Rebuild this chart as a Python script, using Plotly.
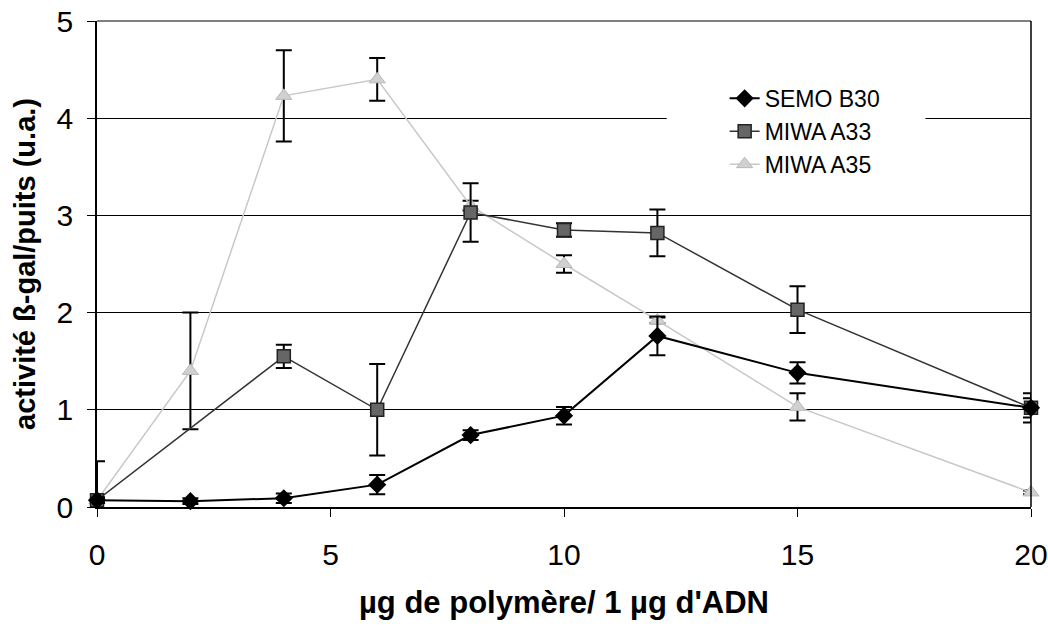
import plotly.graph_objects as go

# Data
x_semo = [0, 2, 4, 6, 8, 10, 12, 15, 20]
y_semo = [0.07, 0.06, 0.09, 0.23, 0.74, 0.94, 1.76, 1.38, 1.02]
e_semo = [0.03, 0.03, 0.05, 0.10, 0.05, 0.09, 0.20, 0.11, 0.10]

x_a33 = [0, 4, 6, 8, 10, 12, 15, 20]
y_a33 = [0.07, 1.55, 1.00, 3.03, 2.85, 2.82, 2.03, 1.02]
e_a33 = [0.40, 0.12, 0.47, 0.30, 0.07, 0.24, 0.24, 0.15]

x_a35 = [0, 2, 4, 6, 8, 10, 12, 15, 20]
y_a35 = [0.07, 1.40, 4.23, 4.40, 3.10, 2.50, 1.92, 1.03, 0.15]
e_a35 = [0.02, 0.60, 0.47, 0.22, 0.05, 0.09, 0.03, 0.14, 0.02]

x_ticks = [0, 5, 10, 15, 20]
y_ticks = [0, 1, 2, 3, 4, 5]

font_family = "Liberation Sans, Arial, sans-serif"

fig = go.Figure()

fig.add_trace(go.Scatter(
    x=x_a35, y=y_a35, name="MIWA A35", mode="lines+markers",
    line=dict(color="#c8c8c8", width=1.5),
    marker=dict(symbol="triangle-up", size=14, color="#d0d0d0", line=dict(color="#b8b8b8", width=1)),
    error_y=dict(type="data", array=e_a35, color="black", thickness=2, width=8),
    cliponaxis=False,
))
fig.add_trace(go.Scatter(
    x=x_a33, y=y_a33, name="MIWA A33", mode="lines+markers",
    line=dict(color="#333333", width=1.5),
    marker=dict(symbol="square", size=13, color="#666666", line=dict(color="#222222", width=1.5)),
    error_y=dict(type="data", array=e_a33, color="black", thickness=2, width=8),
    cliponaxis=False,
))
fig.add_trace(go.Scatter(
    x=x_semo, y=y_semo, name="SEMO B30", mode="lines+markers",
    line=dict(color="black", width=2),
    marker=dict(symbol="diamond", size=14, color="black"),
    error_y=dict(type="data", array=e_semo, color="black", thickness=2, width=8),
    cliponaxis=False,
))

fig.update_layout(
    width=1048, height=626,
    margin=dict(l=97, r=0, t=21, b=119),
    paper_bgcolor="white", plot_bgcolor="white",
    font=dict(family=font_family, color="black", size=30),
    showlegend=True,
    legend=dict(
        x=0.672, y=0.885, xanchor="left", yanchor="top",
        bgcolor="white", borderwidth=0,
        traceorder="reversed",
        font=dict(size=23, family=font_family),
        tracegroupgap=0,
    ),
    xaxis=dict(
        range=[0, 20], tickvals=x_ticks, ticks="outside", ticklen=8,
        tickcolor="black", showline=True, linecolor="black", linewidth=1.5,
        showgrid=False, zeroline=False, mirror=False,
        tickfont=dict(size=30), ticklabelstandoff=12, ticklabeloverflow="allow",
        title=dict(text="<b>µg de polymère/ 1 µg d'ADN</b>", font=dict(size=31), standoff=22),
    ),
    yaxis=dict(
        range=[0, 5], tickvals=y_ticks, ticks="outside", ticklen=8,
        tickcolor="black", showline=True, linecolor="black", linewidth=1.5,
        showgrid=True, gridcolor="black", gridwidth=1, zeroline=False,
        tickfont=dict(size=30), ticklabelstandoff=8, ticklabeloverflow="allow",
        title=dict(text="<b>activité ß-gal/puits (u.a.)</b>", font=dict(size=29), standoff=12),
    ),
)

# top gridline and right border of the plot area
fig.add_shape(type="line", xref="paper", yref="paper", x0=0, x1=1, y0=1, y1=1,
              line=dict(color="black", width=1), layer="below")
fig.add_shape(type="line", xref="paper", yref="paper", x0=1, x1=1, y0=0, y1=1,
              line=dict(color="black", width=1.5))
# white legend background box (hides the gridline behind the legend)
fig.add_shape(type="rect", xref="paper", yref="paper", x0=0.61, x1=0.887, y0=0.68, y1=0.88,
              fillcolor="white", line=dict(width=0), layer="above")

fig.write_html("out.html", config={"displayModeBar": False},
               post_script="document.body.style.margin='0';")
